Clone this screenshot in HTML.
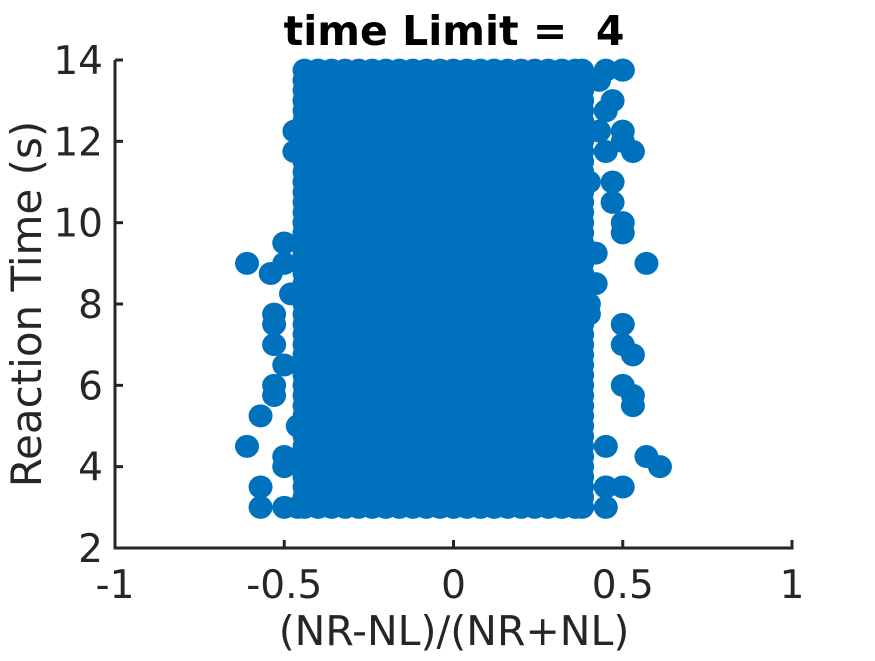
<!DOCTYPE html>
<html><head><meta charset="utf-8"><style>
html,body{margin:0;padding:0;background:#fff;}
svg text{font-family:"DejaVu Sans","Liberation Sans",sans-serif;fill:#262626;white-space:pre;}
</style></head><body>
<svg id="chart" width="875" height="656" viewBox="0 0 875 656" xmlns="http://www.w3.org/2000/svg">
<g id="marks"></g>
<g id="axes"></g>
<text x="454" y="45" text-anchor="middle" style="font-size:41px;font-weight:bold;fill:#000">time Limit =  4</text>
<text x="454" y="645" text-anchor="middle" style="font-size:41px">(NR-NL)/(NR+NL)</text>
<text transform="translate(41,304) rotate(-90)" text-anchor="middle" style="font-size:42px">Reaction Time (s)</text>
</svg>
<script>
const xTicks = [-1, -0.5, 0, 0.5, 1];
const xTickLabels = ["-1", "-0.5", "0", "0.5", "1"];
const yTicks = [2, 4, 6, 8, 10, 12, 14];
const yTickLabels = ["2", "4", "6", "8", "10", "12", "14"];
const coreX = [-0.44,-0.40,-0.36,-0.32,-0.28,-0.24,-0.20,-0.16,-0.12,-0.08,-0.04,0,0.04,0.08,0.12,0.16,0.20,0.24,0.28,0.32,0.36,0.38];
const coreY = [3,3.25,3.5,3.75,4,4.25,4.5,4.75,5,5.25,5.5,5.75,6,6.25,6.5,6.75,7,7.25,7.5,7.75,8,8.25,8.5,8.75,9,9.25,9.5,9.75,10,10.25,10.5,10.75,11,11.25,11.5,11.75,12,12.25,12.5,12.75,13,13.25,13.5,13.75];
const outX = [-0.61,-0.61,-0.57,-0.57,-0.57,-0.54,-0.53,-0.53,-0.53,-0.53,-0.53,-0.50,-0.50,-0.50,-0.50,-0.50,-0.48,-0.47,-0.47,-0.44,-0.44,-0.44,-0.44,-0.44,-0.50,-0.46,-0.46,0.45,0.50,0.43,0.50,0.47,0.43,0.50,0.50,0.53,0.50,0.50,0.57,0.50,0.53,0.50,0.50,0.53,0.53,0.57,0.61,0.50,0.45,0.45,0.45,0.45,0.42,0.40,0.40,0.42,0.45,0.45,0.47,0.47,0.40];
const outY = [9,4.5,5.25,3.5,3,8.75,7.75,7.5,7,6,5.75,9.5,9,6.5,4.25,4,8.25,12.25,11.75,13.5,13,11,10,9.75,3,3,5,13.75,13.75,13.5,13.75,13.0,12.25,12.25,12,11.75,10,9.75,9,7.5,6.75,7,6,5.75,5.5,4.25,4,3.5,3.5,3.5,3,4.5,8.5,8,7.75,9.25,12.75,11.75,11,10.5,11,13.5];
const W0=115,W1=792,H0=548,H1=60;
function sx(v){return W0+(v+1)/2*(W1-W0);}
function sy(v){return H0-(v-2)/12*(H0-H1);}
const NS="http://www.w3.org/2000/svg";
const marks=document.getElementById('marks');
function dot(x,y){
  const c=document.createElementNS(NS,'ellipse');
  c.setAttribute('cx',sx(x));c.setAttribute('cy',sy(y));
  c.setAttribute('rx',12);c.setAttribute('ry',11.5);
  c.setAttribute('fill','#0072BD');
  
  
  marks.appendChild(c);
}
coreY.forEach(y=>coreX.forEach(x=>dot(x,y)));
for(let i=0;i<outX.length;i++)dot(outX[i],outY[i]);
const axes=document.getElementById('axes');
function line(x1,y1,x2,y2,name){
  const l=document.createElementNS(NS,'line');
  l.setAttribute('x1',x1);l.setAttribute('y1',y1);l.setAttribute('x2',x2);l.setAttribute('y2',y2);
  l.setAttribute('stroke','#262626');l.setAttribute('stroke-width',3);
  
  
  axes.appendChild(l);
}
function txt(x,y,s,anchor,name){
  const t=document.createElementNS(NS,'text');
  t.setAttribute('x',x);t.setAttribute('y',y);t.setAttribute('text-anchor',anchor);
  t.setAttribute('style','font-size:39px');
  t.textContent=s;
  
  
  axes.appendChild(t);
}
line(W0,H0,W1+1.5,H0,'x-axis-line');
line(W0,H0+1.5,W0,H1,'y-axis-line');
xTicks.forEach((v,i)=>{line(sx(v),H0,sx(v),H0-8,'x-tick');txt(sx(v),H0+50,xTickLabels[i],'middle','x-tick-label');});
yTicks.forEach((v,i)=>{line(W0,sy(v),W0+8,sy(v),'y-tick');txt(W0-12,sy(v)+14,yTickLabels[i],'end','y-tick-label');});
</script>
</body></html>
